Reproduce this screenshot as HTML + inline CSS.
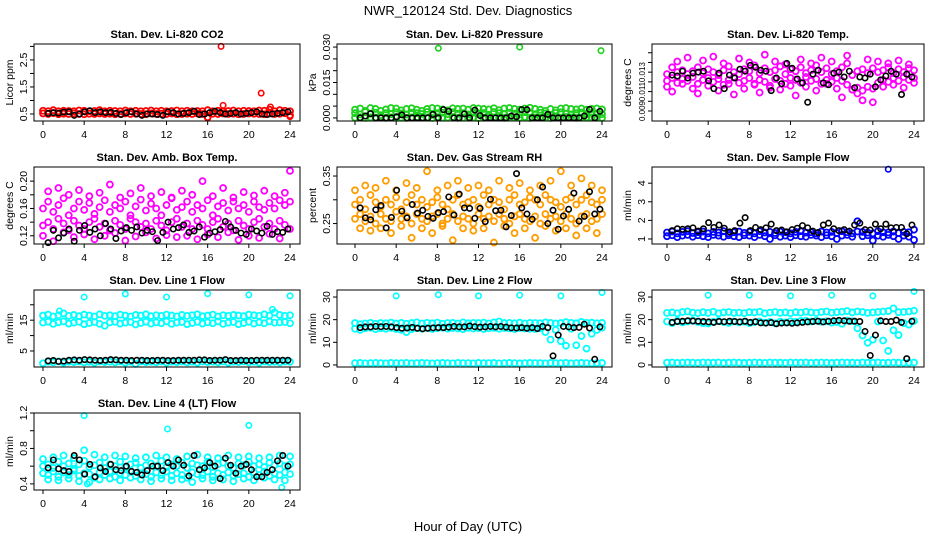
<!DOCTYPE html>
<html><head><meta charset="utf-8"><style>
html,body{margin:0;padding:0;background:#fff;}
svg{display:block;font-family:"Liberation Sans",Arial,sans-serif;}
</style></head><body>
<svg id="chart" width="936" height="540" viewBox="0 0 936 540" xmlns="http://www.w3.org/2000/svg">
<rect x="0" y="0" width="936" height="540" fill="#fff"/>
<text x="468" y="15" font-size="13" text-anchor="middle">NWR_120124  Std. Dev. Diagnostics</text>
<text x="468" y="531" font-size="13" text-anchor="middle">Hour of Day (UTC)</text>
<g id="panels"></g>
</svg>
<script>
// ---------- data ----------
const hourTicks = [0,4,8,12,16,20,24];

const co2A = [0.62,0.6,0.64,0.6,0.62,0.61,0.6,0.63,0.62,0.6,0.61,0.64,0.6,0.62,0.61,0.6,0.63,0.6,0.62,0.6,0.61,0.63,0.6,0.62,0.6,0.61,0.63,0.6,0.62,0.6,0.61,0.6,0.64,0.6,0.62,0.6,0.61,0.63,0.6,0.62,0.61,0.6,0.63,0.62,0.66,0.6,0.64,0.62,0.6];
const co2B = [0.52,0.5,0.53,0.49,0.51,0.5,0.52,0.5,0.49,0.51,0.5,0.52,0.5,0.51,0.49,0.5,0.52,0.5,0.51,0.5,0.49,0.52,0.5,0.51,0.5,0.52,0.49,0.5,0.51,0.5,0.52,0.5,0.38,0.51,0.5,0.52,0.5,0.51,0.49,0.5,0.52,0.51,0.5,0.49,0.52,0.5,0.51,0.53,0.45];
const co2OutX = [17.3,21.2,17.5,22.1,16.0,24.0];
const co2OutY = [3.0,1.27,0.82,0.76,0.35,0.4];
const co2Black = [0.52,0.55,0.53,0.57,0.58,0.45,0.5,0.58,0.62,0.55,0.58,0.55,0.56,0.52,0.48,0.55,0.58,0.5,0.45,0.5,0.5,0.48,0.45,0.58,0.55,0.5,0.52,0.55,0.6,0.48,0.5,0.55,0.6,0.55,0.5,0.52,0.55,0.5,0.52,0.55,0.58,0.5,0.48,0.5,0.52,0.55,0.58];

const prA = [0.0035,0.004,0.003,0.0042,0.0038,0.003,0.0036,0.0042,0.004,0.0032,0.0038,0.0041,0.0035,0.003,0.0038,0.0042,0.004,0.0036,0.0032,0.0041,0.0038,0.004,0.0035,0.0042,0.004,0.0038,0.0036,0.0041,0.0033,0.004,0.0042,0.0038,0.0035,0.004,0.0043,0.0038,0.0035,0.003,0.0038,0.0032,0.004,0.0042,0.0038,0.0036,0.004,0.0035,0.0038,0.004,0.0036];
const prB = [0.002,0.0015,0.0025,0.0018,0.0022,0.0012,0.002,0.0016,0.0024,0.0019,0.0015,0.0022,0.002,0.0017,0.0025,0.0013,0.002,0.0022,0.0016,0.0024,0.0018,0.002,0.0015,0.0022,0.0019,0.0021,0.0014,0.0025,0.002,0.0017,0.0022,0.0018,0.0015,0.0024,0.002,0.0016,0.0022,0.0019,0.0012,0.0021,0.0024,0.0018,0.0015,0.002,0.0023,0.0017,0.0021,0.0019,0.0016];
const prC = [0.0001,0.0003,0,0.0002,0.0001,0.0004,0,0.0002,0.0003,0.0001,0,0.0002,0.0004,0.0001,0.0002,0,0.0003,0.0001,0.0002,0.0004,0,0.0001,0.0003,0.0002,0,0.0001,0.0004,0.0002,0.0001,0,0.0003,0.0002,0.0001,0.0004,0,0.0002,0.0001,0.0003,0,0.0002,0.0001,0.0004,0.0002,0,0.0001,0.0003,0.0002,0.0001,0];
const prOutX = [8.1,16,23.9];
const prOutY = [0.0295,0.030,0.0285];
const prBlack = [0,0.0008,0.0018,0,0,0,0,0.0005,0.0013,0,0,0,0,0,0.0015,0,0.0035,0.0028,0,0,0.0017,0,0.0033,0.001,0,0,0,0,0,0.0008,0.0005,0.0035,0.0035,0,0,0,0.0015,0,0,0,0,0,0,0.0008,0.0036,0,0.0028];

const tA = [0.0128,0.0135,0.013,0.0132,0.0128,0.0131,0.0135,0.0129,0.0133,0.013,0.0127,0.0132,0.0136,0.013,0.0128,0.0133,0.0131,0.0137,0.0129,0.0134,0.013,0.0132,0.0136,0.0128,0.0133,0.0131,0.0135,0.0129,0.0132,0.0137,0.013,0.0134,0.0128,0.0131,0.0135,0.0139,0.0127,0.0131,0.0133,0.0129,0.0134,0.013,0.0132,0.0135,0.0129,0.0133,0.013,0.0134,0.0132];
const tB = [0.0121,0.0124,0.0119,0.0123,0.0121,0.0125,0.0118,0.0122,0.0124,0.012,0.0123,0.0117,0.0122,0.0125,0.0119,0.0121,0.0124,0.0118,0.0122,0.012,0.0116,0.0123,0.0121,0.0118,0.0124,0.0122,0.0119,0.0125,0.0121,0.0123,0.0118,0.0122,0.012,0.0124,0.0121,0.0117,0.0112,0.0114,0.0111,0.0115,0.0113,0.0119,0.0122,0.012,0.0124,0.0121,0.0125,0.0122,0.0124];
const tC = [0.0115,0.011,0.0141,0.0118,0.0145,0.0113,0.0108,0.0142,0.0116,0.0146,0.0111,0.0139,0.0118,0.0107,0.0144,0.0113,0.014,0.0117,0.0109,0.0148,0.0114,0.0141,0.0112,0.0138,0.0116,0.0106,0.0143,0.0115,0.0139,0.0111,0.0145,0.0118,0.0141,0.0113,0.0104,0.0147,0.0112,0.0108,0.0101,0.0143,0.0099,0.0141,0.0115,0.0139,0.0117,0.0142,0.0114,0.0138,0.0119];
const tBlack = [0.0127,0.0126,0.0131,0.0124,0.0129,0.013,0.0131,0.0121,0.0113,0.0129,0.0113,0.0127,0.0124,0.0133,0.0131,0.0137,0.0135,0.0132,0.0131,0.0111,0.0124,0.0118,0.0139,0.0134,0.0123,0.0119,0.0099,0.0128,0.0132,0.0119,0.0117,0.0129,0.013,0.0125,0.0131,0.0114,0.0125,0.0124,0.0128,0.0115,0.0122,0.0126,0.0131,0.0128,0.0107,0.0128,0.0125];

const aA = [0.16,0.17,0.155,0.165,0.175,0.15,0.16,0.17,0.158,0.168,0.152,0.162,0.172,0.155,0.165,0.16,0.17,0.15,0.163,0.173,0.157,0.167,0.16,0.15,0.165,0.175,0.158,0.162,0.17,0.155,0.165,0.16,0.172,0.15,0.163,0.168,0.157,0.17,0.16,0.165,0.155,0.17,0.162,0.158,0.168,0.16,0.172,0.165,0.17];
const aB = [0.135,0.14,0.13,0.145,0.138,0.128,0.142,0.135,0.13,0.14,0.145,0.133,0.138,0.128,0.142,0.136,0.13,0.145,0.14,0.133,0.138,0.13,0.142,0.135,0.128,0.14,0.145,0.133,0.138,0.13,0.142,0.136,0.13,0.14,0.145,0.133,0.138,0.128,0.142,0.135,0.13,0.14,0.145,0.133,0.138,0.13,0.142,0.136,0.13];
const aC = [0.12,0.185,0.112,0.19,0.125,0.18,0.118,0.187,0.122,0.178,0.115,0.183,0.12,0.195,0.124,0.176,0.113,0.182,0.119,0.19,0.125,0.178,0.116,0.184,0.121,0.176,0.118,0.186,0.12,0.18,0.115,0.2,0.122,0.178,0.118,0.19,0.125,0.176,0.114,0.184,0.12,0.179,0.117,0.186,0.123,0.178,0.116,0.183,0.215];
const aBlack = [0.11,0.128,0.117,0.124,0.13,0.112,0.128,0.135,0.125,0.13,0.12,0.138,0.13,0.116,0.127,0.132,0.128,0.133,0.124,0.128,0.126,0.113,0.125,0.14,0.13,0.132,0.136,0.125,0.127,0.133,0.118,0.124,0.126,0.129,0.141,0.133,0.128,0.124,0.122,0.13,0.127,0.124,0.134,0.122,0.126,0.125,0.13];

const rA = [0.29,0.3,0.28,0.31,0.295,0.285,0.3,0.29,0.305,0.28,0.295,0.31,0.29,0.3,0.285,0.295,0.305,0.29,0.28,0.3,0.31,0.29,0.295,0.3,0.285,0.31,0.29,0.3,0.295,0.28,0.3,0.31,0.29,0.295,0.305,0.3,0.29,0.31,0.3,0.295,0.285,0.3,0.305,0.29,0.3,0.31,0.295,0.29,0.3];
const rB = [0.26,0.27,0.255,0.265,0.25,0.27,0.26,0.255,0.275,0.26,0.265,0.25,0.27,0.26,0.255,0.265,0.27,0.25,0.26,0.27,0.255,0.265,0.26,0.25,0.27,0.26,0.265,0.255,0.27,0.26,0.25,0.265,0.27,0.26,0.255,0.265,0.25,0.27,0.26,0.265,0.255,0.27,0.26,0.25,0.265,0.27,0.255,0.26,0.27];
const rC = [0.32,0.24,0.33,0.235,0.325,0.24,0.34,0.23,0.32,0.245,0.335,0.22,0.325,0.24,0.36,0.23,0.32,0.245,0.33,0.215,0.34,0.24,0.325,0.235,0.33,0.24,0.32,0.21,0.34,0.245,0.325,0.23,0.335,0.24,0.32,0.22,0.33,0.245,0.34,0.235,0.36,0.24,0.33,0.225,0.345,0.24,0.33,0.23,0.32];
const rBlack = [0.283,0.262,0.258,0.279,0.288,0.241,0.263,0.32,0.276,0.262,0.29,0.272,0.278,0.265,0.261,0.273,0.275,0.306,0.268,0.312,0.283,0.282,0.261,0.282,0.254,0.301,0.277,0.278,0.243,0.267,0.355,0.283,0.27,0.259,0.3,0.327,0.25,0.278,0.238,0.266,0.28,0.314,0.255,0.265,0.317,0.27,0.28];

const sA = [1.35,1.4,1.3,1.38,1.42,1.32,1.36,1.4,1.3,1.38,1.34,1.42,1.3,1.36,1.4,1.33,1.38,1.3,1.42,1.35,1.38,1.32,1.4,1.36,1.3,1.38,1.42,1.34,1.36,1.3,1.4,1.35,1.38,1.32,1.42,1.36,1.3,1.4,1.38,1.34,1.3,1.42,1.36,1.35,1.4,1.32,1.38,1.36,1.5];
const sB = [1.15,1.2,1.1,1.18,1.22,1.12,1.2,1.15,1.1,1.22,1.18,1.12,1.2,1.15,1.1,1.2,1.18,1.1,1.22,1.15,1.0,1.2,1.12,1.18,1.1,1.2,1.15,1.12,1.22,1.18,1.1,1.2,1.15,1.0,1.18,1.22,1.12,1.95,1.15,1.2,0.92,1.18,1.12,1.22,1.15,1.0,1.18,1.12,0.95];
const sOutX = [21.5];
const sOutY = [4.75];
const sBlack = [1.45,1.55,1.52,1.55,1.6,1.42,1.55,1.88,1.62,1.75,1.58,1.38,1.45,1.85,2.15,1.45,1.62,1.5,1.6,1.8,1.45,1.48,1.38,1.5,1.58,1.72,1.6,1.42,1.35,1.75,1.85,1.55,1.45,1.5,1.42,1.75,1.85,1.5,1.48,1.8,1.55,1.8,1.6,1.62,1.62,1.28,1.75];

const lA = [16.5,16.8,16.2,16.6,17.2,16.4,16.7,16.3,16.8,16.5,16.2,16.9,16.4,16.6,16.3,16.8,16.5,16.2,16.7,16.5,16.9,16.3,16.6,16.4,16.8,16.5,16.2,16.7,16.4,16.6,16.9,16.3,16.5,16.8,16.2,16.6,16.4,16.7,16.5,16.3,16.8,16.6,16.4,16.9,16.5,17.5,16.7,16.4,16.6];
const lB = [14.2,14.5,13.8,14.3,14.6,13.9,14.2,14.5,13.7,14.1,14.4,13.8,13.2,14.3,14.5,13.9,14.2,14.4,13.6,14.1,14.5,13.9,14.3,14.0,14.6,13.8,14.2,14.4,13.7,14.1,14.5,13.9,14.3,14.0,14.6,13.8,14.2,14.4,13.7,14.1,14.5,13.9,14.3,14.0,14.6,14.2,14.3,14.4,14.0];
const lC = [1.0,1.5,1.3,1.6,1.2,1.5,1.4,1.6,1.3,1.5,1.2,1.6,1.4,1.5,1.3,1.6,1.2,1.5,0.8,1.6,1.4,1.5,1.3,1.6,1.2,1.5,1.4,1.6,1.3,1.5,1.2,1.6,1.4,1.5,1.3,1.6,1.2,1.5,1.4,1.6,1.3,1.5,1.2,1.6,1.4,1.5,1.3,1.6,1.5];
const lOutX = [1.6,4,8,12,16,20,22.3,24];
const lOutY = [18,22.5,23.5,22.5,23.6,23.2,18.5,22.9];
const lBlack = [1.8,1.9,1.6,1.7,2.0,2.1,2.0,2.2,2.1,2.0,1.9,2.0,2.2,2.1,2.0,2.0,1.9,2.0,2.0,1.9,1.9,2.0,2.0,1.9,1.9,2.0,2.0,2.0,2.0,2.1,2.1,1.9,2.0,2.0,2.2,1.9,1.9,2.0,1.9,1.9,2.0,2.0,2.0,2.0,2.0,2.0,2.0];

const mA = [18.5,18,18.3,18.6,18.2,18.5,18.4,18.7,18.3,18.6,18.2,18.5,18.8,18.3,18.6,18.4,18.7,18.2,18.5,18.6,18.3,18.8,18.4,18.6,18.5,18.7,18.3,18.8,19.2,18.5,18.6,18.4,18.7,18.3,18.6,18.5,18.4,18.8,18.6,18.3,18.5,18.9,18.6,18.4,19,18.6,18.7,18.4,18.6];
const mB = [16,15.5,16.2,16.5,15.8,16.2,16,16.4,15.9,15.5,14.5,15.8,16.2,16,16.3,15.9,16.2,16.5,16,16.3,16.1,15.8,16.4,16.1,16.3,15.9,16.2,16.4,16,16.3,16.1,15.9,16.3,16.1,16,15.9,16.2,14.5,11.2,15.5,10.5,8.5,16,8.7,12.8,7.2,13.8,15.5,16.5];
const mC = [0.8,0.9,0.7,0.8,0.9,0.8,0.7,0.9,0.8,0.8,0.9,0.7,0.8,0.9,0.8,0.7,0.8,0.9,0.8,0.7,0.9,0.8,0.8,0.7,0.9,0.8,0.8,0.9,0.7,0.8,0.9,0.8,0.7,0.8,0.9,0.8,0.8,0.7,0.9,0.8,0.8,0.9,0.7,0.8,0.9,0.8,0.7,0.8,0.9];
const mOutX = [4,8.1,12,16,20,24];
const mOutY = [30.5,31,30.5,30.8,30.5,32];
const mBlack = [16.5,16.8,16.8,17,16.9,17,16.8,16.5,16.2,16.3,16.6,16.2,16,16.2,16.4,16.5,16.5,16.7,17,16.8,16.8,17.2,16.9,16.7,16.8,17,16.8,17,16.7,16.4,16.3,16.5,16.2,16.5,16.1,17,16.5,4,13.2,17,16.8,16.5,16.6,18,16.3,2.5,16.8];

const nA = [23,23.2,22.8,23.4,23.6,23.1,22.9,23.3,23,23.5,22.8,23.2,23.4,23,23.1,22.9,23.3,23.2,23.5,22.8,23.1,23.4,23,23.2,22.9,23.3,23.1,23.5,23.2,23,23.4,23.6,23.1,23.3,23.5,23.8,23.2,23.6,23.4,23,23.2,23.4,23.6,23.8,25,23.3,23.4,23.6,24];
const nB = [19.2,18.5,19.5,18.8,19.2,19.6,19,18.5,18.3,19.1,19.4,18.9,18.6,19.2,18.8,19.1,18.5,18.9,19.2,18.7,19,18.4,19.1,18.8,19.3,19,19.4,19.5,19.2,19.6,19.1,19.3,18.7,19,18.2,19.6,19.3,16.2,13,9.8,11.2,19.2,10.8,6.2,15.3,13.2,18.5,17.8,19.4];
const nC = [1.0,1.1,0.9,1.0,1.1,1.0,0.9,1.1,1.0,1.0,1.1,0.9,1.0,1.1,1.0,0.9,1.0,1.1,1.0,0.9,1.1,1.0,1.0,0.9,1.1,1.0,1.0,1.1,0.9,1.0,1.1,1.0,0.9,1.0,1.1,1.0,1.0,0.9,1.1,1.0,1.0,1.1,0.9,1.0,1.1,1.0,0.9,1.0,1.1];
const nOutX = [4,8,12,16,20,24];
const nOutY = [30.8,30.8,30.5,30.8,30.5,32.5];
const nBlack = [18.8,19.2,19.3,19.5,19.4,19.3,19.2,19,18.8,19.2,19.1,19.3,19.2,19,19.3,18.8,19.1,18.6,18.5,18.7,18.2,18.5,18.6,18.4,18.6,18.8,19,19.2,19.3,19,19.3,19.5,19.7,19.5,19.3,19.3,19.2,14.8,4.2,13.2,19.5,19.2,19.2,19.8,18.8,2.8,19.3];

const qA = [0.6,0.62,0.58,0.65,0.6,0.63,0.57,0.62,0.66,0.59,0.61,0.64,0.58,0.62,0.6,0.65,0.59,0.62,0.64,0.58,0.61,0.63,0.6,0.66,0.59,0.62,0.6,0.64,0.58,0.63,0.61,0.6,0.65,0.59,0.62,0.64,0.6,0.58,0.63,0.61,0.65,0.6,0.62,0.59,0.64,0.61,0.63,0.6,0.62];
const qB = [0.52,0.5,0.54,0.48,0.53,0.5,0.55,0.49,0.52,0.51,0.47,0.53,0.5,0.54,0.48,0.52,0.5,0.55,0.49,0.52,0.51,0.48,0.53,0.5,0.54,0.49,0.52,0.5,0.47,0.53,0.51,0.5,0.54,0.48,0.52,0.5,0.53,0.49,0.51,0.52,0.48,0.53,0.5,0.54,0.49,0.52,0.5,0.53,0.51];
const qC = [0.68,0.45,0.7,0.44,0.72,0.46,0.69,0.43,0.78,0.42,0.73,0.45,0.7,0.46,0.72,0.44,0.71,0.47,0.69,0.45,0.7,0.43,0.72,0.46,0.7,0.44,0.68,0.45,0.71,0.42,0.73,0.46,0.7,0.44,0.69,0.45,0.72,0.43,0.7,0.46,0.71,0.44,0.69,0.47,0.7,0.45,0.72,0.44,0.71];
const qOutX = [4,12.1,20,23.2,4.3];
const qOutY = [1.17,1.02,1.06,0.36,0.4];
const qBlack = [0.58,0.67,0.57,0.55,0.54,0.72,0.67,0.51,0.62,0.48,0.58,0.54,0.62,0.56,0.55,0.6,0.54,0.53,0.5,0.55,0.6,0.6,0.55,0.64,0.6,0.67,0.61,0.49,0.72,0.56,0.58,0.64,0.6,0.46,0.69,0.61,0.52,0.6,0.62,0.56,0.48,0.48,0.53,0.56,0.66,0.72,0.6];

const p1Ticks = [0.5,1,1.5,2,2.5,3];       const p1Labels = ["0.5","","1.5","","2.5",""];
const p2Ticks = [0,0.005,0.01,0.015,0.02,0.025,0.03]; const p2Labels = ["0.000","","","0.015","","","0.030"];
const p3Ticks = [0.009,0.010,0.011,0.012,0.013,0.014,0.015]; const p3Labels = ["0.009","","0.011","","0.013","",""];
const p4Ticks = [0.12,0.14,0.16,0.18,0.20]; const p4Labels = ["0.12","","0.16","","0.20"];
const p5Ticks = [0.25,0.30,0.35];           const p5Labels = ["0.25","","0.35"];
const p6Ticks = [1,2,3,4];                  const p6Labels = ["1","2","3","4"];
const p7Ticks = [5,10,15,20];               const p7Labels = ["5","","15",""];
const p8Ticks = [0,10,20,30];               const p8Labels = ["0","10","20","30"];
const p10Ticks = [0.4,0.6,0.8,1.0,1.2];     const p10Labels = ["0.4","","0.8","","1.2"];

// ---------- layout ----------
const cols = [{l:34,r:300,x0:43,x24:290},{l:337,r:612,x0:355,x24:602},{l:652,r:924,x0:667,x24:914}];
const rowTops = [44,167,290,413];
const boxH = 77;

const panels = [
 {name:'co2',title:'Stan. Dev. Li-820 CO2',ylab:'Licor ppm',col:0,row:0,ymin:0.24,ymax:3.09,ticks:p1Ticks,labels:p1Labels,tfs:10.5,color:'#ff0000',series:[co2A,co2B],outX:co2OutX,outY:co2OutY,black:co2Black},
 {name:'pressure',title:'Stan. Dev. Li-820 Pressure',ylab:'kPa',col:1,row:0,ymin:-0.0013,ymax:0.0313,ticks:p2Ticks,labels:p2Labels,tfs:10.5,color:'#1fd11f',series:[prA,prB,prC],outX:prOutX,outY:prOutY,black:prBlack},
 {name:'li820-temp',title:'Stan. Dev. Li-820 Temp.',ylab:'degrees C',col:2,row:0,ymin:0.00797,ymax:0.0159,ticks:p3Ticks,labels:p3Labels,tfs:8,color:'#ff00ff',series:[tA,tB,tC],outX:[],outY:[],black:tBlack},
 {name:'amb-box-temp',title:'Stan. Dev. Amb. Box Temp.',ylab:'degrees C',col:0,row:1,ymin:0.108,ymax:0.2207,ticks:p4Ticks,labels:p4Labels,tfs:10.5,color:'#ff00ff',series:[aA,aB,aC],outX:[],outY:[],black:aBlack},
 {name:'gas-rh',title:'Stan. Dev. Gas Stream RH',ylab:'percent',col:1,row:1,ymin:0.207,ymax:0.369,ticks:p5Ticks,labels:p5Labels,tfs:10.5,color:'#ff9d00',series:[rA,rB,rC],outX:[],outY:[],black:rBlack},
 {name:'sample-flow',title:'Stan. Dev. Sample Flow',ylab:'ml/min',col:2,row:1,ymin:0.73,ymax:4.87,ticks:p6Ticks,labels:p6Labels,tfs:10.5,color:'#0000ff',series:[sA,sB],outX:sOutX,outY:sOutY,black:sBlack},
 {name:'line1-flow',title:'Stan. Dev. Line 1 Flow',ylab:'ml/min',col:0,row:2,ymin:-0.2,ymax:24.8,ticks:p7Ticks,labels:p7Labels,tfs:10.5,color:'#00ffff',series:[lA,lB,lC],outX:lOutX,outY:lOutY,black:lBlack},
 {name:'line2-flow',title:'Stan. Dev. Line 2 Flow',ylab:'ml/min',col:1,row:2,ymin:-0.9,ymax:33.1,ticks:p8Ticks,labels:p8Labels,tfs:10.5,color:'#00ffff',series:[mA,mB,mC],outX:mOutX,outY:mOutY,black:mBlack},
 {name:'line3-flow',title:'Stan. Dev. Line 3 Flow',ylab:'ml/min',col:2,row:2,ymin:-0.9,ymax:33.1,ticks:p8Ticks,labels:p8Labels,tfs:10.5,color:'#00ffff',series:[nA,nB,nC],outX:nOutX,outY:nOutY,black:nBlack},
 {name:'line4-flow',title:'Stan. Dev. Line 4 (LT) Flow',ylab:'ml/min',col:0,row:3,ymin:0.331,ymax:1.2,ticks:p10Ticks,labels:p10Labels,tfs:10.5,color:'#00ffff',series:[qA,qB,qC],outX:qOutX,outY:qOutY,black:qBlack}
];

const NS = 'http://www.w3.org/2000/svg';
const root = document.getElementById('panels');
function mk(tag, attrs, parent){ const e=document.createElementNS(NS,tag); for(const k in attrs) e.setAttribute(k,attrs[k]); parent.appendChild(e); return e; }

panels.forEach(p => {
  const c = cols[p.col], top = rowTops[p.row], bot = top + boxH;
  const xs = h => c.x0 + (c.x24 - c.x0) * h / 24;
  const ys = v => bot - (v - p.ymin) / (p.ymax - p.ymin) * boxH;
  const g = mk('g', {}, root);
  
  

  const t = mk('text', {x:(c.l+c.r)/2, y:top-6, 'font-size':11, 'font-weight':'bold', 'text-anchor':'middle'}, g);
  t.textContent = p.title;
  
  

  const yl = mk('text', {x:0, y:0, 'font-size':10.5, 'text-anchor':'middle', transform:`translate(${c.l-21},${(top+bot)/2}) rotate(-90)`}, g);
  yl.textContent = p.ylab;
  
  

  const pts = mk('g', {fill:'none'}, g);
  
  
  p.series.forEach(arr => {
    arr.forEach((v, i) => {
      const h = 24 * i / (arr.length - 1);
      const ci = mk('circle', {cx:xs(h), cy:ys(v), r:3, stroke:p.color, 'stroke-width':1.8}, pts);
      
      
    });
  });
  p.outX.forEach((h, i) => {
    const ci = mk('circle', {cx:xs(h), cy:ys(p.outY[i]), r:2.7, stroke:p.color, 'stroke-width':1.6}, pts);
    
    
  });
  p.black.forEach((v, i) => {
    const h = 0.5 + 23.3 * i / (p.black.length - 1);
    const ci = mk('circle', {cx:xs(h), cy:ys(v), r:2.7, stroke:'#000', 'stroke-width':1.6}, pts);
    
    
  });

  const box = mk('rect', {x:c.l, y:top, width:c.r-c.l, height:boxH, fill:'none', stroke:'#000', 'stroke-width':1}, g);
  
  

  const xa = mk('g', {}, g);
  
  
  mk('line', {x1:xs(hourTicks[0]), x2:xs(hourTicks[hourTicks.length-1]), y1:bot, y2:bot, stroke:'#000'}, xa);
  hourTicks.forEach(h => {
    mk('line', {x1:xs(h), x2:xs(h), y1:bot, y2:bot+4, stroke:'#000'}, xa);
    const tl = mk('text', {x:xs(h), y:bot+17, 'font-size':10.5, 'text-anchor':'middle'}, xa);
    tl.textContent = String(h);
    
    
  });

  const ya = mk('g', {}, g);
  
  
  mk('line', {x1:c.l, x2:c.l, y1:ys(p.ticks[0]), y2:ys(p.ticks[p.ticks.length-1]), stroke:'#000'}, ya);
  p.ticks.forEach((v, i) => {
    mk('line', {x1:c.l-4, x2:c.l, y1:ys(v), y2:ys(v), stroke:'#000'}, ya);
    if (p.labels[i]) {
      const tl = mk('text', {x:0, y:0, 'font-size':p.tfs, 'text-anchor':'middle', transform:`translate(${c.l-7},${ys(v)}) rotate(-90)`}, ya);
      tl.textContent = p.labels[i];
      
      
    }
  });
});
</script>
</body></html>
